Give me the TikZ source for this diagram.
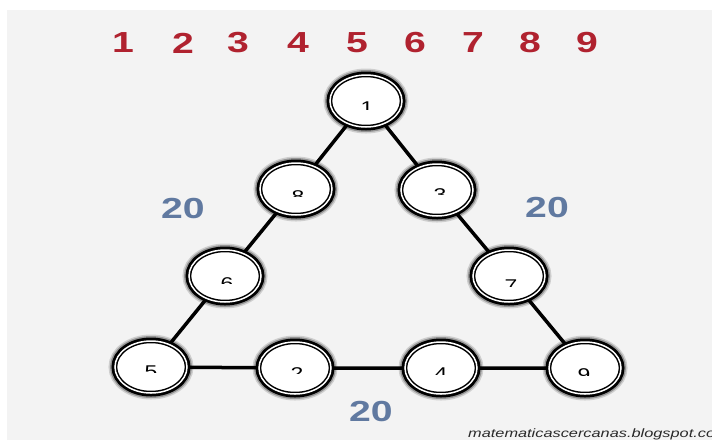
\documentclass[tikz,border=0pt]{standalone}
\usepackage{fontspec}
\setmainfont{Liberation Sans}
\usetikzlibrary{shapes.geometric}

\pgfdeclarelayer{paper}
\pgfdeclarelayer{wires}
\pgfsetlayers{paper,wires,main}

\definecolor{pagegray}{HTML}{F3F3F3}
\definecolor{topred}{HTML}{B0222F}
\definecolor{sumblue}{HTML}{6079A0}
\definecolor{markgray}{HTML}{2A2A2A}

% all lettering is stretched sideways like the ellipses
\newcommand\wide[1]{\scalebox{1.35}[1]{#1}}

\tikzset{
  cell/.style={ellipse, minimum width=72, minimum height=52, inner sep=0,
    preaction={draw=black, opacity=0.15, line width=13},
    preaction={draw=black, opacity=0.28, line width=10},
    preaction={draw=black, line width=7},
    fill=white, draw=black, line width=1.5, double=white, double distance=1.5},
  wire/.style={draw=black, line width=3.5},
  topnum/.style={text=topred, font=\fontsize{29}{29}\selectfont\bfseries, inner sep=0},
  sumlabel/.style={text=sumblue, font=\fontsize{29}{29}\selectfont\bfseries, inner sep=0},
  celldigit/.style={text=black, font=\fontsize{17}{17}\selectfont, inner sep=0, anchor=north},
  credit/.style={text=markgray, font=\fontsize{12.1}{12.1}\selectfont\itshape, inner sep=0, anchor=base west}
}

% a digit whose lower part is hidden: name, x, top y, cut y, text
\newcommand\cutdigit[5]{%
  \begin{scope}
    \clip (#2-15,#3-3) rectangle (#2+15,#4);
    \node[celldigit] (#1) at (#2,#3) {\wide{#5}};
  \end{scope}}

\begin{document}
\begin{tikzpicture}[x=1pt,y=-1pt]
  \useasboundingbox (0,0) rectangle (712,440);

  \begin{pgfonlayer}{paper}
    \fill[white] (0,0) rectangle (712,440);
    \fill[pagegray] (7,10) rectangle (712,440);
  \end{pgfonlayer}

  % digits 1 to 9 across the top
  \foreach \d/\x in {1/123,2/183,3/238,4/298,5/357,6/415,7/473,8/530,9/587}
    \node[topnum] (top\d) at (\x,43) {\wide{\d}};

  % the nine cells of the triangle
  \node[cell] (c1) at (366,101) {};
  \node[cell] (c8) at (296,189) {};
  \node[cell] (c3) at (437,190) {};
  \node[cell] (c6) at (225,276) {};
  \node[cell] (c7) at (509,276) {};
  \node[cell] (c5) at (151,367) {};
  \node[cell] (c2) at (295,368) {};
  \node[cell] (c4) at (441,368) {};
  \node[cell] (c9) at (585,368) {};

  % sides of the triangle, behind the cells
  \begin{pgfonlayer}{wires}
    \path[wire] (c1.center) -- (c8.center) -- (c6.center) -- (c5.center)
      -- (c2.center) -- (c4.center) -- (c9.center)
      -- (c7.center) -- (c3.center) -- (c1.center);
  \end{pgfonlayer}

  % numbers in the cells, only their tops showing
  \cutdigit{d1}{367}{102}{109}{1}
  \cutdigit{d8}{298}{190}{196}{8}
  \cutdigit{d3}{440}{188}{194}{3}
  \cutdigit{d6}{227}{277}{283}{6}
  \cutdigit{d7}{511}{280}{286}{7}
  \cutdigit{d5}{151}{366}{372}{5}
  \cutdigit{d2}{297}{367}{373}{2}
  \cutdigit{d4}{441}{368}{374}{4}
  \cutdigit{d9}{584}{368}{375}{9}

  % sum of each side
  \node[sumlabel] (sumL) at (183,209) {\wide{20}};
  \node[sumlabel] (sumR) at (547,208) {\wide{20}};
  \node[sumlabel] (sumB) at (371,412) {\wide{20}};

  % blog credit, running off the right edge
  \begin{scope}
    \clip (0,0) rectangle (712,440);
    \node[credit] (credit) at (468,437) {\wide{matematicascercanas.blogspot.com}};
  \end{scope}
\end{tikzpicture}
\end{document}
